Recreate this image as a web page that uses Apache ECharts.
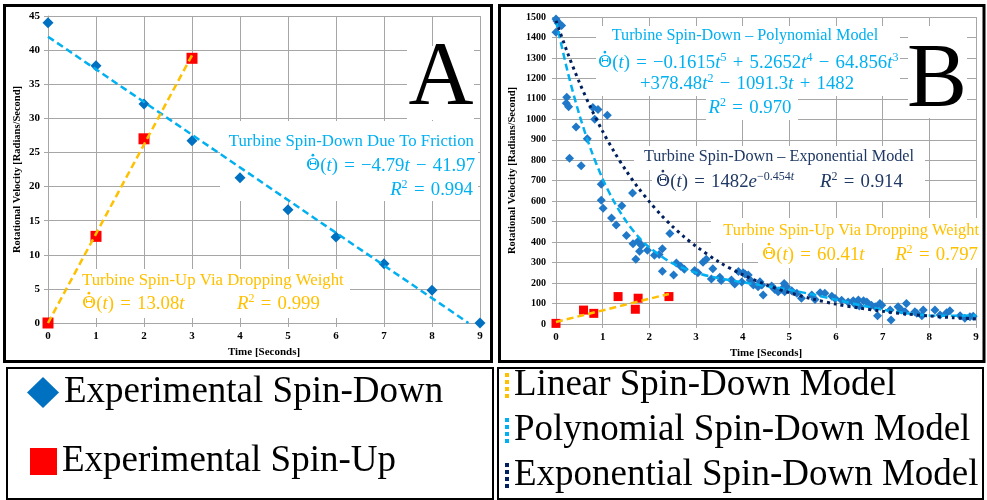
<!DOCTYPE html>
<html><head><meta charset="utf-8">
<script src="https://cdn.jsdelivr.net/npm/echarts@6/dist/echarts.min.js"></script>
<style>html,body{margin:0;padding:0;background:#fff}#c{width:987px;height:500px}</style>
</head><body><div id="c"></div>
<script>
// ---------- Panel A data ----------
const aTime = [0, 1, 2, 3, 4, 5, 6, 7, 8, 9];
const aSpinDown = [44, 37.7, 32.1, 26.7, 21.3, 16.6, 12.6, 8.7, 4.8, 0];
const aUpTime = [0, 1, 2, 3];
const aSpinUp = [0, 12.7, 27, 38.8];
const aFrictionFit = [[0, 41.97], [8.76, 0]];
const aLinearFit = [[0, 0], [3, 39.24]];
const aXTicks = [0, 9, 1];
const aYTicks = [0, 45, 5];

// ---------- Panel B data ----------
const bSpinDown = [
 [0.0,1490],[0.02,1480],[0.05,1470],[0.12,1458],[0.0,1425],
 [0.23,1108],[0.22,1078],[0.27,1062],[0.43,962],[0.29,810],[0.54,773],[0.67,905],[0.79,1058],[0.9,1048],[0.83,1000],[1.1,1020],
 [0.97,683],[0.97,605],[1.01,565],[1.64,640],[1.41,578],[1.19,518],[1.29,484],[1.51,432],[1.65,392],[1.76,404],[1.83,385],
 [1.79,356],[1.71,316],[1.96,360],[2.11,336],[2.28,368],[2.21,340],[2.28,258],[2.44,442],[2.52,240],[2.58,298],[2.67,282],
 [2.75,268],[2.97,262],[3.04,250],[3.15,302],[3.22,316],[3.36,270],[3.33,220],[3.51,228],[3.54,212],[3.76,215],[3.83,195],
 [3.91,256],[4.01,250],[3.98,205],[4.05,244],[4.12,240],[4.16,215],[4.23,191],[4.33,182],[4.37,206],[4.41,190],[4.44,142],
 [4.62,186],[4.69,168],[4.76,158],[4.84,170],[4.89,198],[4.94,182],[4.9,158],[5.05,162],[5.16,150],[5.26,126],[5.48,142],
 [5.55,120],[5.66,153],[5.76,150],[5.91,136],[5.98,125],[6.12,116],[6.26,108],[6.37,113],[6.48,117],[6.59,113],[6.4,98],
 [6.5,88],[6.66,108],[6.76,92],[6.84,84],[6.89,40],[6.94,100],[6.98,92],[7.16,68],[7.18,20],[7.33,84],[7.4,68],[7.51,100],
 [7.48,60],[7.69,60],[7.73,52],[7.87,68],[7.84,40],[8.12,68],[8.23,44],[8.37,55],[8.44,65],[8.66,40],[8.76,28],[8.87,36],[8.94,38]
];
const bUpTime = [0, 0.59, 0.81, 1.33, 1.7, 1.76, 2.42];
const bSpinUp = [3, 68, 52, 134, 72, 126, 134];
const bLinearFit = [[0, 10], [2.42, 147]];
const bPolyTime = [0,0.25,0.5,0.75,1,1.25,1.5,1.75,2,2.5,3,3.5,4,4.5,5,5.5,6,6.5,7,7.5,8,8.5,9];
const bPolyFit  = [1482,1232,1023,851,709,595,503,430,374,296,251,223,204,186,167,144,119,93,70,53,42,40,42];
const bExpTime = [0,0.25,0.5,0.75,1,1.25,1.5,1.75,2,2.25,2.5,2.75,3,3.5,4,4.5,5,5.5,6,6.5,7,7.5,8,8.5,9];
const bExpFit  = [1482,1323,1181,1054,941,840,750,669,598,533,476,425,380,302,241,192,153,122,97,78,62,49,39,31,25];
const bXTicks = [0, 9, 1];
const bYTicks = [0, 1500, 100];

// ---------- styles ----------
const F = "'Liberation Serif','Times New Roman',serif";
const LB = '#00B0F0', YL = '#FFC000', NV = '#1F3864', BL = '#0070C0', RD = '#FF0000';
const GRID = '#a6a6a6';
const S = '\u2004';

function mkRich(color, size, tsize) {
  const n = {fill: color, fontFamily: F, fontSize: size, lineHeight: size + 4};
  const su = {fill: color, fontFamily: F, fontSize: Math.round(size * 0.62), lineHeight: size * 0.5, verticalAlign: 'top'};
  return {
    n, i: Object.assign({}, n, {fontStyle: 'italic'}),
    th: Object.assign({}, n, {fontFamily: "'DejaVu Serif',serif", fontSize: size * 0.92}),
    su, si: Object.assign({}, su, {fontStyle: 'italic'}),
    t: {fill: color, fontFamily: F, fontSize: tsize, lineHeight: tsize + 4}
  };
}
const EQ = 18.8;
function txt(x, y, align, text, color, tsize) {
  return {type: 'text', x, y, z: 100, silent: true,
    style: {text, rich: mkRich(color, EQ, tsize || 16.8), fill: color, align, verticalAlign: 'middle'}};
}
// equation starting with the theta-dot symbol, left aligned at x
function eq(x, y, rest, color) {
  return [txt(x, y, 'left', '{th|\u0398}{n|(}{i|t}{n|)' + S + '=' + S + '}' + rest, color),
    {type: 'circle', z: 100, silent: true, shape: {cx: x + 6.9, cy: y - 10.8, r: 1.4}, style: {fill: color}}];
}
function box(x, y, w, h) {
  return {type: 'rect', z: 1, silent: true, shape: {x, y, width: w, height: h}, style: {fill: '#fff'}};
}
function frame(x, y, w, h, lw) {
  return {type: 'rect', z: 120, silent: true, shape: {x, y, width: w, height: h}, style: {fill: 'none', stroke: '#000', lineWidth: lw}};
}
const r2 = v => '{i|R}{su|2}{n|' + S + '=' + S + v + '}';

function xAx(grid, t, nameGap) {
  return {type: 'value', gridIndex: grid, min: t[0], max: t[1], interval: t[2],
    name: 'Time [Seconds]', nameLocation: 'middle', nameGap,
    nameTextStyle: {fontFamily: F, fontWeight: 'bold', fontSize: 11, color: '#000'},
    axisLine: {show: true, lineStyle: {color: GRID, width: 1}},
    axisTick: {show: true, length: 4, lineStyle: {color: GRID}},
    axisLabel: {fontFamily: F, fontWeight: 'bold', fontSize: 11, color: '#000', margin: 8},
    splitLine: {show: true, lineStyle: {color: GRID, width: 1}}};
}
function yAx(grid, t, nameGap, fs, margin) {
  return {type: 'value', gridIndex: grid, min: t[0], max: t[1], interval: t[2],
    name: 'Rotational Velocity [Radians/Second]', nameLocation: 'middle', nameGap, nameRotate: 90,
    nameTextStyle: {fontFamily: F, fontWeight: 'bold', fontSize: 10.5, color: '#000'},
    axisLine: {show: true, lineStyle: {color: GRID, width: 1}},
    axisTick: {show: true, length: 4, lineStyle: {color: GRID}},
    axisLabel: {fontFamily: F, fontWeight: 'bold', fontSize: fs, color: '#000', margin, formatter: v => String(v)},
    splitLine: {show: true, lineStyle: {color: GRID, width: 1}}};
}
const dash = (color, type, width) => ({color, width, type, cap: 'butt', opacity: 1});
const DOTS = 'path://M0,0h4v4h-4z M0,7h4v4h-4z M0,14h4v4h-4z M0,21h4v4h-4z';
const legText = {fontFamily: F, fontSize: 37, color: '#000'};
const solid = c => ({color: c, opacity: 1, borderWidth: 0});

const chart = echarts.init(document.getElementById('c'), null, {renderer: 'canvas'});
chart.setOption({
  backgroundColor: '#fff',
  animation: false,
  grid: [
    {left: 48, top: 16, width: 432, height: 307},
    {left: 556, top: 17, width: 420, height: 307}
  ],
  xAxis: [xAx(0, aXTicks, 24), xAx(1, bXTicks, 23)],
  yAxis: [yAx(0, aYTicks, 25, 11, 8), yAx(1, bYTicks, 38, 10, 10)],
  legend: [
    {data: ['Experimental Spin-Down'], left: 27, top: 374, padding: 0, orient: 'vertical', selectedMode: false,
     itemWidth: 32, itemHeight: 31, icon: 'diamond', itemStyle: {opacity: 1}, textStyle: legText},
    {data: ['Experimental Spin-Up'], left: 30, top: 443, padding: 0, orient: 'vertical', selectedMode: false,
     itemWidth: 27, itemHeight: 27, icon: 'rect', itemStyle: {opacity: 1}, textStyle: legText},
    {data: ['Linear Spin-Down Model', 'Polynomial Spin-Down Model', 'Exponential Spin-Down Model'],
     left: 505, top: 367, padding: 0, orient: 'vertical', itemGap: 8, selectedMode: false,
     itemWidth: 4, itemHeight: 26, icon: DOTS, itemStyle: {borderWidth: 0, opacity: 1}, textStyle: legText}
  ],
  series: [
    {name: 'Experimental Spin-Down', type: 'scatter', xAxisIndex: 0, yAxisIndex: 0, symbol: 'diamond', symbolSize: 11,
     itemStyle: solid(BL), data: aTime.map((t, i) => [t, aSpinDown[i]]), z: 2},
    {name: 'Experimental Spin-Up', type: 'scatter', xAxisIndex: 0, yAxisIndex: 0, symbol: 'rect', symbolSize: 11,
     itemStyle: solid(RD), data: aUpTime.map((t, i) => [t, aSpinUp[i]]), z: 2},
    {name: 'Friction Spin-Down Fit', type: 'line', xAxisIndex: 0, yAxisIndex: 0, symbol: 'none',
     itemStyle: solid(LB), lineStyle: dash(LB, [7, 4], 2.5), data: aFrictionFit, z: 4},
    {name: 'Linear Spin-Down Model', type: 'line', xAxisIndex: 0, yAxisIndex: 0, symbol: 'none',
     itemStyle: solid(YL), lineStyle: dash(YL, [7, 4], 2.5), data: aLinearFit, z: 4},

    {name: 'Experimental Spin-Down', type: 'scatter', xAxisIndex: 1, yAxisIndex: 1, symbol: 'diamond', symbolSize: 9,
     itemStyle: solid('#1f78c8'), data: bSpinDown, z: 2},
    {name: 'Experimental Spin-Up', type: 'scatter', xAxisIndex: 1, yAxisIndex: 1, symbol: 'rect', symbolSize: 9,
     itemStyle: solid(RD), data: bUpTime.map((t, i) => [t, bSpinUp[i]]), z: 2},
    {name: 'Polynomial Spin-Down Model', type: 'line', xAxisIndex: 1, yAxisIndex: 1, symbol: 'none', smooth: 0.3,
     itemStyle: solid(LB), lineStyle: dash(LB, [7, 4], 2.5), data: bPolyTime.map((t, i) => [t, bPolyFit[i]]), z: 4},
    {name: 'Exponential Spin-Down Model', type: 'line', xAxisIndex: 1, yAxisIndex: 1, symbol: 'none', smooth: 0.3,
     itemStyle: solid('#002060'), lineStyle: dash('#002060', [3, 4], 3), data: bExpTime.map((t, i) => [t, bExpFit[i]]), z: 5},
    {name: 'Linear Spin-Down Model', type: 'line', xAxisIndex: 1, yAxisIndex: 1, symbol: 'none',
     itemStyle: solid(YL), lineStyle: dash(YL, [7, 4], 2.5), data: bLinearFit, z: 4}
  ],
  graphic: [
    box(407, 46, 67, 74), box(220, 121, 258, 80), box(80, 269, 270, 49),
    box(596, 26, 304, 70), box(706, 96, 92, 24), box(908, 26, 59, 92),
    box(634, 146, 291, 24), box(652, 170, 273, 31), box(711, 218, 270, 25), box(758, 243, 223, 25),
    {type: 'text', x: 441, y: 80, z: 100, silent: true, style: {text: 'A', fontFamily: F, fontSize: 90, fill: '#000', align: 'center', verticalAlign: 'middle'}},
    {type: 'text', x: 937, y: 82, z: 100, silent: true, style: {text: 'B', fontFamily: F, fontSize: 90, fill: '#000', align: 'center', verticalAlign: 'middle'}},
    txt(474, 142, 'right', '{t|Turbine Spin-Down Due To Friction}', LB),
    ...eq(306, 166, '{n|\u22124.79}{i|t}{n|' + S + '\u2212' + S + '41.97}', LB),
    txt(473, 190, 'right', r2('0.994'), LB),
    txt(82, 281, 'left', '{t|Turbine Spin-Up Via Dropping Weight}', YL),
    ...eq(82, 304, '{n|13.08}{i|t}', YL),
    txt(237, 304, 'left', r2('0.999'), YL),
    txt(745, 36, 'center', '{t|Turbine Spin-Down \u2013 Polynomial Model}', LB, 16.2),
    ...eq(598, 63, '{n|\u22120.1615}{i|t}{su|5}{n|' + S + '+' + S + '5.2652}{i|t}{su|4}{n|' + S + '\u2212' + S + '64.856}{i|t}{su|3}', LB),
    txt(747, 84, 'center', '{n|+378.48}{i|t}{su|2}{n|' + S + '\u2212' + S + '1091.3}{i|t}{n|' + S + '+' + S + '1482}', LB),
    txt(750, 108, 'center', r2('0.970'), LB),
    txt(779, 157, 'center', '{t|Turbine Spin-Down \u2013 Exponential Model}', NV, 16.2),
    ...eq(656, 182, '{n|1482}{i|e}{su|\u22120.454}{si|t}', NV),
    txt(820, 182, 'left', r2('0.914'), NV),
    txt(979, 231, 'right', '{t|Turbine Spin-Up Via Dropping Weight}', YL, 16.4),
    ...eq(762, 255, '{n|60.41}{i|t}', YL),
    txt(978, 255, 'right', r2('0.797'), YL),
    frame(4.5, 5.5, 487, 356, 3), frame(499.5, 5.5, 484.5, 356, 3),
    frame(7, 368, 486, 131, 2), frame(498, 368, 485, 131, 2)
  ]
});
</script></body></html>
